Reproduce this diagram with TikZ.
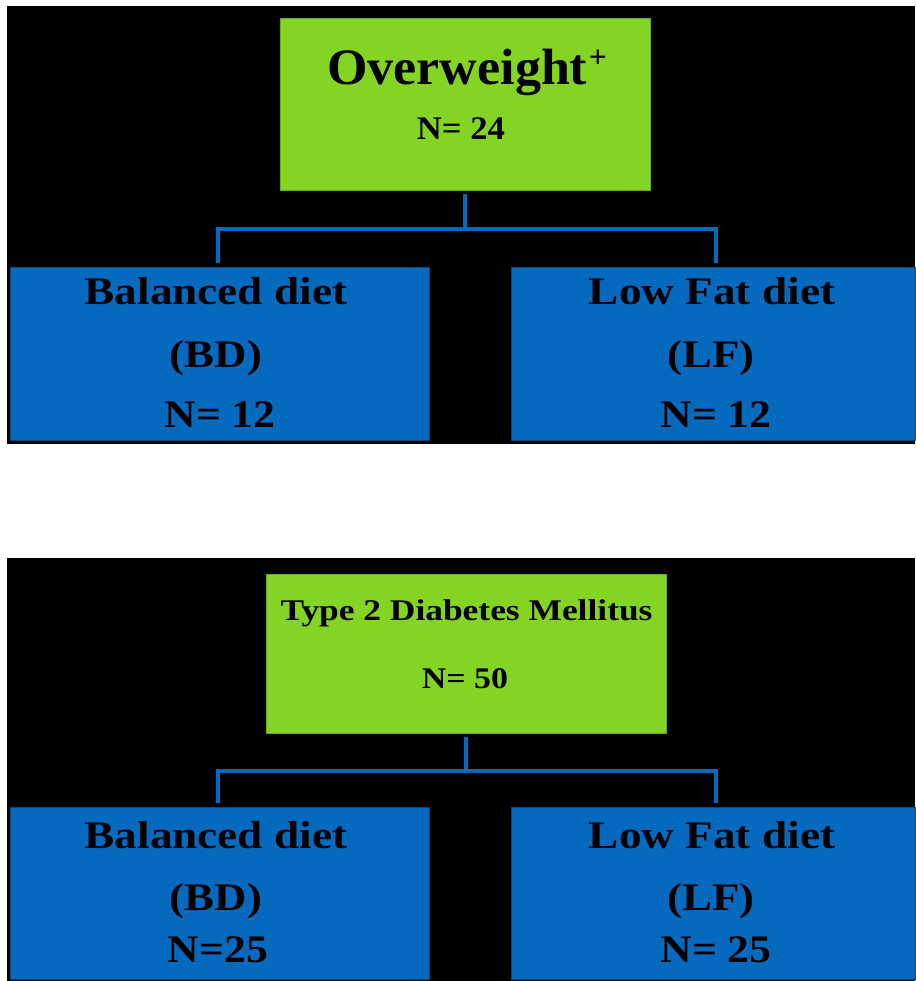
\documentclass[tikz,border=0pt]{standalone}
\usepackage{fontspec}
\setmainfont{Liberation Serif}
\usepackage{graphicx}
\definecolor{boxgreen}{RGB}{132,212,36}
\definecolor{boxgreenedge}{RGB}{100,170,30}
\definecolor{boxblue}{RGB}{5,106,190}
\definecolor{boxblueedge}{RGB}{10,70,130}
\newcommand{\txt}[3]{\fontsize{#1}{#1}\selectfont\bfseries\scalebox{#2}[1]{#3}}
\newcommand{\supplus}{\kern1.5pt\raisebox{17pt}{\fontsize{31}{31}\selectfont +}}
\begin{document}
\begin{tikzpicture}[x=1pt,y=-1pt,
  panel/.style={fill=black,draw=none},
  greenbox/.style={fill=boxgreen,draw=boxgreenedge,line width=0.8pt,inner sep=0pt,outer sep=0pt},
  bluebox/.style={fill=boxblue,draw=boxblueedge,line width=0.8pt,inner sep=0pt,outer sep=0pt},
  conn/.style={draw=boxblue,line width=3.5pt},
  lbl/.style={anchor=base,inner sep=0pt,text=black}]
\useasboundingbox[fill=white] (0,0) rectangle (915,981);
% panels
\fill[panel] (7,6) rectangle (915,444);
\fill[panel] (7,558) rectangle (915,981);
% top panel boxes
\node[greenbox,minimum width=370pt,minimum height=172pt] (g1) at (465,104) {};
\node[bluebox,minimum width=418.5pt,minimum height=173pt] (b1) at (219.75,353.5) {};
\node[bluebox,minimum width=404pt,minimum height=173pt] (l1) at (713,353.5) {};
% bottom panel boxes
\node[greenbox,minimum width=400pt,minimum height=159pt] (g2) at (466,653.5) {};
\node[bluebox,minimum width=418.5pt,minimum height=172pt] (b2) at (219.75,893) {};
\node[bluebox,minimum width=404pt,minimum height=172pt] (l2) at (713,893) {};
% connectors top
\coordinate (j1) at ([yshift=-39pt]g1.south);
\draw[conn] ([yshift=-4pt]g1.south) -- (j1);
\draw[conn] ([xshift=-1.75pt,yshift=4pt]b1.north) |- (j1) -| ([xshift=3pt,yshift=4pt]l1.north);
% connectors bottom
\coordinate (j2) at ([yshift=-38pt]g2.south);
\draw[conn] ([yshift=-4pt]g2.south) -- (j2);
\draw[conn] ([xshift=-1.75pt,yshift=4pt]b2.north) |- (j2) -| ([xshift=3pt,yshift=4pt]l2.north);
% texts top
\node[lbl] (tow) at (467,85) {\txt{51}{1.02}{Overweight\supplus}};
\node[lbl] (tn1) at (461,140) {\txt{33}{1.05}{N= 24}};
\node[lbl] (tb1) at (216,304) {\txt{39}{1.16}{Balanced diet}};
\node[lbl] (tb2) at (216,367) {\txt{39}{1.15}{(BD)}};
\node[lbl] (tb3) at (220,427) {\txt{39}{1.12}{N= 12}};
\node[lbl] (tl1) at (712,304) {\txt{39}{1.16}{Low Fat diet}};
\node[lbl] (tl2) at (711,367) {\txt{39}{1.15}{(LF)}};
\node[lbl] (tl3) at (716,427) {\txt{39}{1.12}{N= 12}};
% texts bottom
\node[lbl] (td1) at (466.5,620) {\txt{30}{1.18}{Type 2 Diabetes Mellitus}};
\node[lbl] (td2) at (465,688) {\txt{30}{1.13}{N= 50}};
\node[lbl] (ub1) at (216,848) {\txt{39}{1.16}{Balanced diet}};
\node[lbl] (ub2) at (216,910) {\txt{39}{1.15}{(BD)}};
\node[lbl] (ub3) at (218,962) {\txt{39}{1.12}{N=25}};
\node[lbl] (ul1) at (712,848) {\txt{39}{1.16}{Low Fat diet}};
\node[lbl] (ul2) at (711,910) {\txt{39}{1.15}{(LF)}};
\node[lbl] (ul3) at (716,962) {\txt{39}{1.12}{N= 25}};
\end{tikzpicture}
\end{document}
